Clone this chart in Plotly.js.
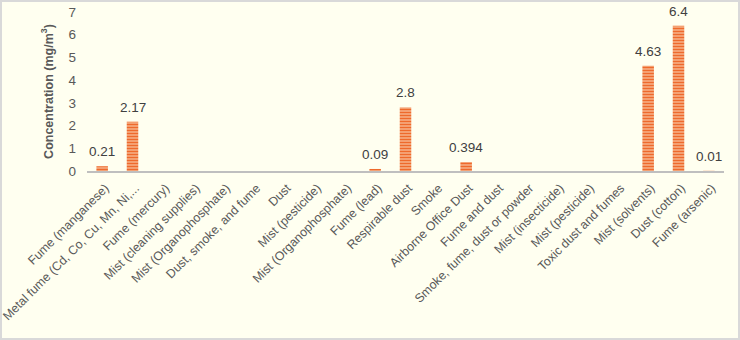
<!DOCTYPE html>
<html>
<head>
<meta charset="utf-8">
<script src="https://cdn.plot.ly/plotly-3.0.1.min.js"></script>
<style>
  html, body { margin: 0; padding: 0; background: #FFFFF0; }
  #wrap { position: relative; width: 740px; height: 340px; }
  #chart { width: 740px; height: 340px; }
  #frame { position: absolute; left: 0; top: 0; width: 736px; height: 336px; border: 2px solid #d9d9d9; pointer-events: none; }
</style>
</head>
<body>
<div id="wrap"><div id="chart"></div><div id="frame"></div></div>
<script>
const categories = [
  "Fume (manganese)",
  "Metal fume (Cd, Co, Cu, Mn, Ni,...",
  "Fume (mercury)",
  "Mist (cleaning supplies)",
  "Mist (Organophosphate)",
  "Dust, smoke, and fume",
  "Dust",
  "Mist (pesticide)",
  "Mist (Organophosphate)",
  "Fume (lead)",
  "Respirable dust",
  "Smoke",
  "Airborne Office Dust",
  "Fume and dust",
  "Smoke, fume, dust or powder",
  "Mist (insecticide)",
  "Mist (pesticide)",
  "Toxic dust and fumes",
  "Mist (solvents)",
  "Dust (cotton)",
  "Fume (arsenic)"
];
const concentration = [0.21, 2.17, 0, 0, 0, 0, 0, 0, 0, 0.09, 2.8, 0, 0.394, 0, 0, 0, 0, 0, 4.63, 6.4, 0.01];
const valueLabels = ["0.21", "2.17", "", "", "", "", "", "", "", "0.09", "2.8", "", "0.394", "", "", "", "", "", "4.63", "6.4", "0.01"];
const yTicks = [0, 1, 2, 3, 4, 5, 6, 7];

const idx = categories.map((_, i) => i);

const trace = {
  type: 'bar',
  x: idx,
  y: concentration,
  width: 0.38,
  marker: {
    color: '#F29A66',
    line: { width: 0 },
    pattern: { shape: '-', fgcolor: '#EE6A2C', bgcolor: '#F6AC80', size: 3, solidity: 0.45, fillmode: 'replace' }
  },
  hoverinfo: 'none'
};

const annotations = [];
idx.forEach(i => {
  if (valueLabels[i] !== '') {
    annotations.push({
      x: i, y: concentration[i], xref: 'x', yref: 'y',
      text: valueLabels[i], showarrow: false,
      yanchor: 'bottom', yshift: 5,
      font: { family: 'Liberation Sans, Arial, sans-serif', size: 13.5, color: '#404040' }
    });
  }
});

const layout = {
  width: 740,
  height: 340,
  paper_bgcolor: '#FFFFF0',
  plot_bgcolor: '#FFFFF0',
  margin: { l: 87, r: 16, t: 12, b: 169 },
  showlegend: false,
  font: { family: 'Liberation Sans, Arial, sans-serif', color: '#595959' },
  annotations: annotations,
  xaxis: {
    range: [-0.5, categories.length - 0.5],
    tickvals: idx,
    ticktext: categories,
    tickangle: -45,
    tickfont: { size: 12.4, color: '#595959' },
    ticklabeloverflow: 'allow',
    ticklabelshift: 3,
    ticklabelstandoff: 3,
    automargin: false,
    showgrid: false,
    zeroline: false,
    showline: true,
    linecolor: '#BFBFBF',
    linewidth: 2,
    ticks: '',
    fixedrange: true
  },
  yaxis: {
    range: [0, 7],
    tickvals: yTicks,
    tickfont: { size: 13.5, color: '#595959' },
    ticklabelstandoff: 10,
    automargin: false,
    showgrid: false,
    zeroline: false,
    showline: false,
    ticks: '',
    title: { text: '<b>Concentration (mg/m<sup>3</sup>)</b>', font: { size: 12.5, color: '#595959' }, standoff: 12 },
    fixedrange: true
  }
};

Plotly.newPlot('chart', [trace], layout, { displayModeBar: false, staticPlot: true });
</script>
</body>
</html>
